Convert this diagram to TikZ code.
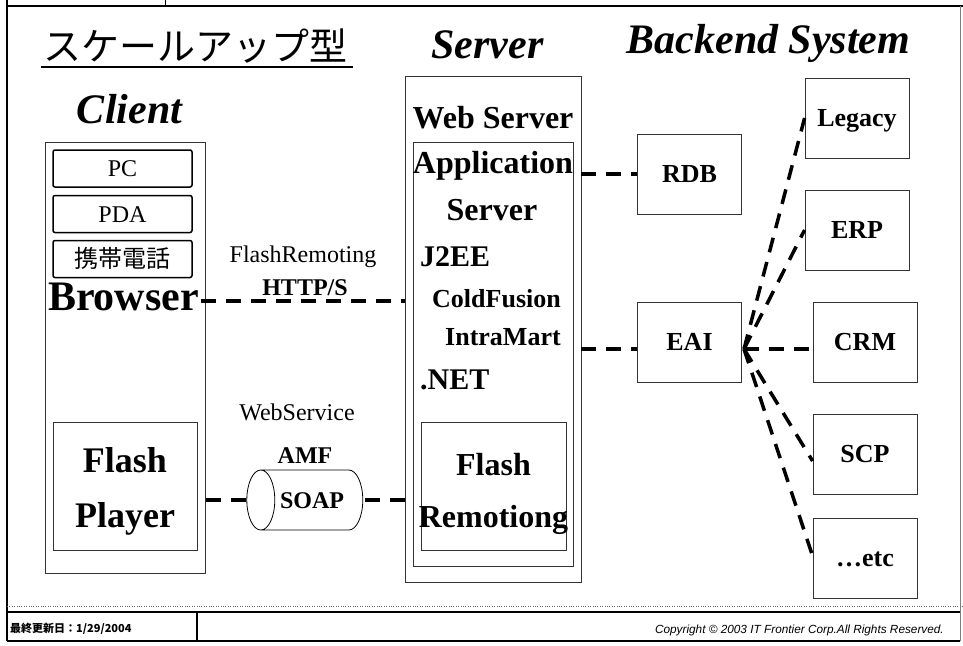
\documentclass[tikz,border=0pt]{standalone}
\usepackage{fontspec}
\setmainfont{Liberation Serif}
\setsansfont{Liberation Sans}
\newfontfamily\jpfont{Noto Sans CJK JP}
\usetikzlibrary{shapes.geometric}
\tikzset{
	frame/.style={draw=black!80,line width=0.8pt,inner sep=0pt},
	box/.style={frame,minimum width=104pt,minimum height=80pt,font=\fontsize{26}{26}\selectfont\bfseries,text height=17pt,text depth=0pt},
	dev/.style={draw,line width=1.5pt,rounded corners=2pt,inner sep=0pt,minimum width=139pt,minimum height=37pt,font=\fontsize{24}{24}\selectfont,text height=16pt,text depth=0pt},
	link/.style={line width=3.5pt,dash pattern=on 15pt off 10pt},
	head/.style={anchor=base,inner sep=0pt,font=\fontsize{42}{42}\selectfont\bfseries\itshape},
	txt/.style 2 args={anchor=base,inner sep=0pt,font=\fontsize{#1}{#1}\selectfont\bfseries,name=#2},
	thin/.style 2 args={anchor=base,inner sep=0pt,font=\fontsize{#1}{#1}\selectfont,name=#2}
}
\begin{document}
\begin{tikzpicture}[x=1pt,y=-1pt]
	\useasboundingbox (0,0) rectangle (963,645);
	\draw[line width=2pt] (7,0) -- (7,641);
	\draw[line width=1.5pt] (7,6) -- (963,6);
	\draw[line width=1pt] (165,0) -- (165,6);
	\draw[black!50,line width=0.8pt] (960,6) -- (960,641);
	\draw[black!60,dotted] (7,606) -- (963,606);
	\draw[line width=1.5pt] (7,612) -- (960,612) (7,641) -- (960,641) (197,612) -- (197,641);
	\node[anchor=base west,inner sep=0pt,font=\jpfont\bfseries\fontsize{11}{11}\selectfont] (date) at (10,632) {最終更新日：1/29/2004};
	\node[anchor=base east,inner sep=0pt,font=\sffamily\itshape\fontsize{11.8}{11.8}\selectfont] (copy) at (944,633) {Copyright © 2003 IT Frontier Corp.All Rights Reserved.};

	\node[anchor=base west,inner sep=0pt,font=\jpfont\fontsize{38}{38}\selectfont] (title) at (43,60) {スケールアップ型};
	\draw[line width=2pt] (41,67) -- (353,67);
	\node[head] (clienthead) at (129.5,123) {Client};
	\node[head] (serverhead) at (487.5,58) {Server};
	\node[head] (backhead) at (768.5,53) {Backend System};

	\node[frame,minimum width=160pt,minimum height=431pt] (client) at (125,357.5) {};
	\node[dev] (pc) at (122.5,168.5) {PC};
	\node[dev] (pda) at (122.5,214) {PDA};
	\node[dev,font=\jpfont\fontsize{24}{24}\selectfont] (phone) at (122.5,259) {携帯電話};
	\node[txt={42}{browser}] at (123.5,310) {Browser};
	\node[frame,minimum width=144pt,minimum height=128pt] (player) at (125,486) {};
	\node[txt={36}{flashA}] at (125,472) {Flash};
	\node[txt={36}{flashB}] at (125,527) {Player};

	\node[frame,minimum width=176pt,minimum height=506pt] (server) at (493,329) {};
	\node[frame,minimum width=160pt,minimum height=424pt] (app) at (493,354) {};
	\node[frame,minimum width=145pt,minimum height=128pt] (remoting) at (493.5,486) {};
	\node[txt={32}{web}] at (493,128) {Web Server};
	\node[txt={32}{appA}] at (493,173) {Application};
	\node[txt={32}{appB}] at (492,220) {Server};
	\node[txt={30}{j2ee},anchor=base west] at (420,266) {J2EE};
	\node[txt={26}{cf},anchor=base west] at (432,307) {ColdFusion};
	\node[txt={26}{im},anchor=base west] at (445,345) {IntraMart};
	\node[txt={30}{net},anchor=base west] at (420,389) {.NET};
	\node[txt={32}{remA}] at (493.5,475) {Flash};
	\node[txt={32}{remB}] at (493.5,527) {Remotiong};

	\node[thin={24}{flashrem}] at (303,262) {FlashRemoting};
	\node[txt={24}{http}] at (305,295) {HTTP/S};
	\node[thin={24}{websvc}] at (297,420) {WebService};
	\node[txt={24}{amf}] at (305,463) {AMF};
	\node[cylinder,shape border rotate=180,aspect=1.75,draw,fill=white,line width=0.8pt,inner sep=0pt,minimum width=60pt,minimum height=116pt,font=\fontsize{24}{24}\selectfont\bfseries,text height=16pt,text depth=0pt] (soap) at (312,500) {SOAP};

	\node[box] (rdb) at (689.5,174) {RDB};
	\node[box] (eai) at (689.5,342) {EAI};
	\node[box] (legacy) at (857,118) {Legacy};
	\node[box] (erp) at (857,230) {ERP};
	\node[box] (crm) at (865,342) {CRM};
	\node[box] (scp) at (865,454) {SCP};
	\node[box] (etc) at (865,558) {\textbf{\ldots}etc};

	\coordinate (hs) at (201,301);
	\coordinate (hub) at (744,349);
	\draw[link] (hs) -- (hs -| server.west);
	\draw[link] (soap.west) -- (soap.west -| client.east);
	\draw[link] (server.west |- soap.east) -- (soap.east);
	\draw[link] (server.east |- rdb.west) -- (rdb.west);
	\draw[link] (server.east |- hub) -- (eai.west |- hub);
	\draw[link] (hub) -- (legacy.west);
	\draw[link] (hub) -- (erp.west);
	\draw[link] (hub) -- (crm.west |- hub);
	\draw[link] (hub) -- ([yshift=-7pt]scp.west);
	\draw[link] (hub) -- ([yshift=2pt]etc.west);
\end{tikzpicture}
\end{document}
